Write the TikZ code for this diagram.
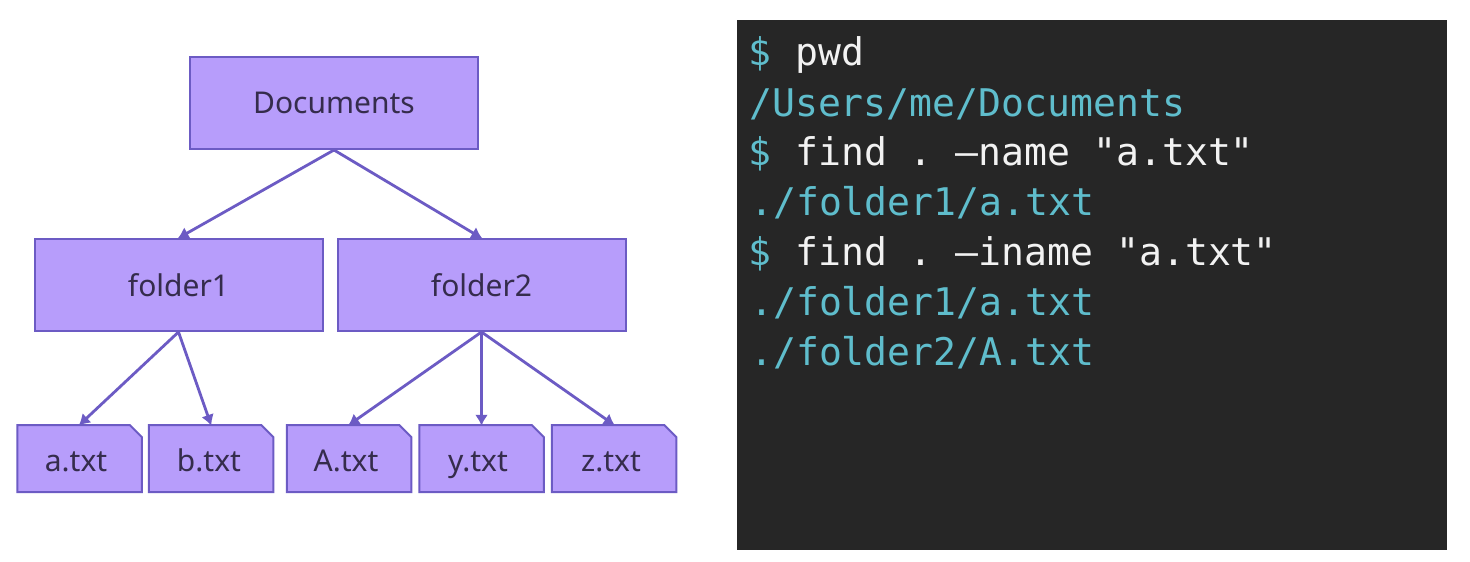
\documentclass[tikz,border=0pt]{standalone}
\usepackage{fontspec}
\setmainfont{Noto Sans}
\setmonofont{DejaVu Sans Mono}
\usetikzlibrary{arrows.meta}
\definecolor{boxfill}{HTML}{B79DFB}
\definecolor{boxline}{HTML}{6C5BC4}
\definecolor{boxtext}{HTML}{352C4C}
\definecolor{termbg}{HTML}{262626}
\definecolor{termteal}{HTML}{5FBDCC}
\definecolor{termwhite}{HTML}{F2F2F2}
\tikzset{
  x=1pt,y=-1pt,
  dirbox/.style={draw=boxline,fill=boxfill,line width=2pt,minimum width=288pt,minimum height=92pt,inner sep=0pt,text=boxtext,font=\fontsize{30}{32}\selectfont},
  filebox/.style={minimum width=124.5pt,minimum height=67pt,inner sep=0pt,text=boxtext,text height=30pt,text depth=5pt,font=\fontsize{30}{32}\selectfont},
  link/.style={draw=boxline,line width=2.8pt,-{Latex[length=11pt,width=13pt]},shorten >=-1pt},
  termline/.style={anchor=base west,inner sep=0pt,font=\ttfamily\fontsize{38.1}{44}\selectfont},
  prompt/.style={termline,text=termteal},
  command/.style={termline,text=termwhite},
  output/.style={termline,text=termteal},
}
\newcommand{\filenode}[5]{%
  \path[draw=boxline,fill=boxfill,line width=2pt,line join=miter]
    (#2-62.25,#3-33.5) -- (#2+50.25,#3-33.5) -- (#2+62.25,#3-21.5) -- (#2+62.25,#3+33.5) -- (#2-62.25,#3+33.5) -- cycle;
  \node[filebox] (#1) at (#2,#3) {#4\rule{#5pt}{0pt}};
}
\begin{document}
\begin{tikzpicture}
\useasboundingbox[fill=white] (0,0) rectangle (1470,562);
\node[dirbox] (docs) at (334,103) {Documents};
\node[dirbox] (f1) at (178.5,285) {folder1};
\node[dirbox] (f2) at (481.5,285) {folder2};
\filenode{a}{79.5}{458.5}{a.txt}{7}
\filenode{b}{211}{458.5}{b.txt}{4}
\filenode{A}{349}{458.5}{A.txt}{6}
\filenode{y}{481.5}{458.5}{y.txt}{7}
\filenode{z}{614}{458.5}{z.txt}{6}
\draw[link] (docs.south) -- (f1.north);
\draw[link] (docs.south) -- (f2.north);
\draw[link] (f1.south) -- (a.north);
\draw[link] (f1.south) -- (b.north);
\draw[link] (f2.south) -- (A.north);
\draw[link] (f2.south) -- (y.north);
\draw[link] (f2.south) -- (z.north);
\node[fill=termbg,minimum width=710pt,minimum height=530pt,inner sep=0pt] (term) at (1092,285) {};
\node[prompt] (l1p) at (748.5,65) {\$};
\node[command] (l1c) at (795,65) {pwd};
\node[output] (l2) at (749,116) {/Users/me/Documents};
\node[prompt] (l3p) at (748.5,165) {\$};
\node[command] (l3c) at (795,165) {find . –name "a.txt"};
\node[output] (l4) at (750,215) {./folder1/a.txt};
\node[prompt] (l5p) at (748.5,265) {\$};
\node[command] (l5c) at (795,265) {find . –iname "a.txt"};
\node[output] (l6) at (750,315) {./folder1/a.txt};
\node[output] (l7) at (750,365) {./folder2/A.txt};
\end{tikzpicture}
\end{document}
